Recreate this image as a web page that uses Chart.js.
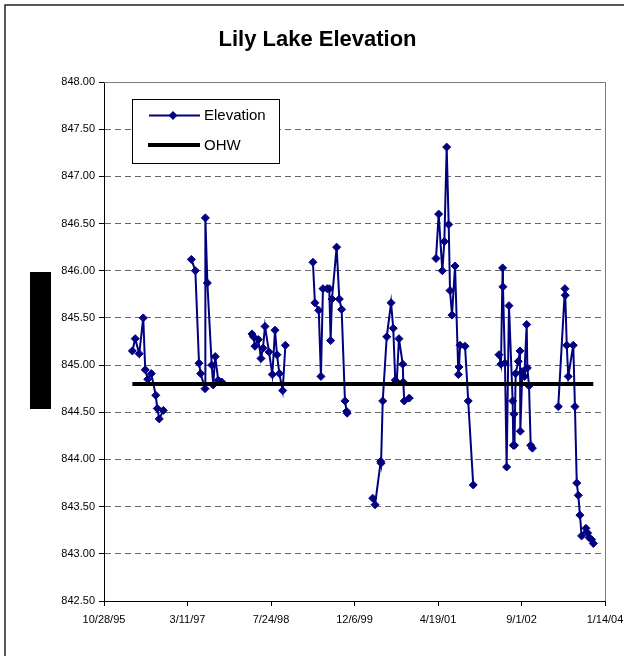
<!DOCTYPE html>
<html>
<head>
<meta charset="utf-8">
<script src="https://cdn.jsdelivr.net/npm/chart.js@4.4.1/dist/chart.umd.min.js"></script>
<style>
html,body{margin:0;padding:0;background:#fff;}
canvas{display:block;}
</style>
</head>
<body>
<canvas id="c" width="624" height="656"></canvas>
<script>
// ---------------- data ----------------
const chartTitle = 'Lily Lake Elevation';
const seriesNames = ['Elevation', 'OHW'];

// Excel date serials (days since 12/30/1899); null marks a break between survey periods
const sampleDates = [
  35170, 35187, 35211, 35235, 35247, 35262, 35283, 35310, 35319, 35331, 35355,
  null,
  35523, 35547, 35569, 35579, 35605, 35607, 35619, 35645, 35654, 35666, 35684, 35705,
  null,
  35886, 35895, 35904, 35924, 35940, 35952, 35964, 35988, 36008, 36024, 36036, 36050, 36070, 36086,
  null,
  36251, 36263, 36286, 36299, 36311, 36337, 36349, 36357, 36365, 36393, 36409, 36423, 36443, 36453, 36456,
  null,
  36609, 36623, 36657, 36659, 36669, 36693, 36719, 36732, 36744, 36753, 36766, 36789, 36792, 36798, 36828,
  null,
  36988, 37004, 37026, 37038, 37052, 37064, 37072, 37084, 37102, 37122, 37126, 37132, 37162, 37181, 37211,
  null,
  37365, 37377, 37387, 37389, 37401, 37411, 37425, 37447, 37451, 37455, 37458, 37465, 37481, 37491, 37493,
  37505, 37517, 37531, 37535, 37545, 37555, 37565,
  null,
  37720, 37760, 37762, 37771, 37780, 37810, 37820, 37831, 37840, 37850, 37860, 37886, 37896, 37906, 37920, 37930
];
const elevation = [
  845.15, 845.28, 845.12, 845.50, 844.95, 844.85, 844.91, 844.68, 844.54, 844.43, 844.52,
  null,
  846.12, 846.00, 845.02, 844.91, 844.75, 846.56, 845.87, 845.00, 844.79, 845.09, 844.84, 844.82,
  null,
  845.33, 845.30, 845.20, 845.27, 845.07, 845.18, 845.41, 845.14, 844.90, 845.37, 845.11, 844.91, 844.73, 845.21,
  null,
  846.09, 845.66, 845.58, 844.88, 845.81, 845.81, 845.81, 845.26, 845.70, 846.25, 845.70, 845.59, 844.62, 844.51, 844.49,
  null,
  843.59, 843.52, 843.98, 843.96, 844.62, 845.30, 845.66, 845.39, 844.84, 844.82, 845.28, 845.01, 844.82, 844.62, 844.65,
  null,
  846.13, 846.60, 846.00, 846.31, 847.31, 846.49, 845.79, 845.53, 846.05, 844.90, 844.98, 845.21, 845.20, 844.62, 843.73,
  null,
  845.11, 845.01, 846.03, 845.83, 845.02, 843.92, 845.63, 844.62, 844.15, 844.48, 844.15, 844.91, 845.04, 845.15, 844.30,
  844.93, 844.88, 845.43, 844.97, 844.78, 844.15, 844.12,
  null,
  844.56, 845.81, 845.74, 845.21, 844.88, 845.21, 844.56, 843.75, 843.62, 843.41, 843.19, 843.27, 843.22, 843.17, 843.15, 843.11
];

const ohwDates = [35170, 37930];
const ohwLevel = [844.8, 844.8];

const xTicks = [35000, 35500, 36000, 36500, 37000, 37500, 38000];
const yTicks = [842.5, 843.0, 843.5, 844.0, 844.5, 845.0, 845.5, 846.0, 846.5, 847.0, 847.5, 848.0];

// ---------------- helpers ----------------
const FONT = "'Liberation Sans', Arial, Helvetica, sans-serif";
const NAVY = '#000080';

function serialToLabel(s) {
  const d = new Date(Date.UTC(1899, 11, 30) + Math.round(s) * 86400000);
  return (d.getUTCMonth() + 1) + '/' + d.getUTCDate() + '/' + String(d.getUTCFullYear() % 100).padStart(2, '0');
}

const elevPoints = sampleDates.map((d, i) => ({ x: d === null ? sampleDates[i - 1] : d, y: elevation[i] }));
const ohwPoints = ohwDates.map((d, i) => ({ x: d, y: ohwLevel[i] }));

const decor = {
  id: 'decor',
  beforeDraw(chart) {
    const ctx = chart.ctx;
    ctx.save();
    ctx.fillStyle = '#fff';
    ctx.fillRect(0, 0, chart.width, chart.height);
    ctx.restore();
  },
  afterDraw(chart) {
    const ctx = chart.ctx;
    const a = chart.chartArea;
    ctx.save();
    // plot frame top/right
    ctx.strokeStyle = '#7a7a7a';
    ctx.lineWidth = 1;
    ctx.beginPath();
    ctx.moveTo(a.left, Math.round(a.top) + 0.5);
    ctx.lineTo(Math.round(a.right) + 0.5, Math.round(a.top) + 0.5);
    ctx.lineTo(Math.round(a.right) + 0.5, a.bottom);
    ctx.stroke();

    // title
    ctx.fillStyle = '#000';
    ctx.font = 'bold 22px ' + FONT;
    ctx.textAlign = 'center';
    ctx.textBaseline = 'middle';
    ctx.fillText(chartTitle, 317.5, 40);

    // legend box
    ctx.fillStyle = '#fff';
    ctx.fillRect(132, 99, 147, 64);
    ctx.strokeStyle = '#000';
    ctx.lineWidth = 1;
    ctx.strokeRect(132.5, 99.5, 147, 64);
    // Elevation sample
    ctx.strokeStyle = NAVY;
    ctx.lineWidth = 2;
    ctx.beginPath();
    ctx.moveTo(149, 115.5);
    ctx.lineTo(200, 115.5);
    ctx.stroke();
    ctx.fillStyle = NAVY;
    ctx.beginPath();
    ctx.moveTo(173, 111); ctx.lineTo(177.5, 115.5); ctx.lineTo(173, 120); ctx.lineTo(168.5, 115.5);
    ctx.closePath();
    ctx.fill();
    // OHW sample
    ctx.strokeStyle = '#000';
    ctx.lineWidth = 4;
    ctx.beginPath();
    ctx.moveTo(148, 145);
    ctx.lineTo(200, 145);
    ctx.stroke();
    ctx.fillStyle = '#000';
    ctx.font = '15px ' + FONT;
    ctx.textAlign = 'left';
    ctx.textBaseline = 'middle';
    ctx.fillText(seriesNames[0], 204, 116);
    ctx.fillText(seriesNames[1], 204, 146);

    // redacted axis title block
    ctx.fillStyle = '#000';
    ctx.fillRect(30, 272, 21, 137);

    // outer chart frame
    ctx.strokeStyle = '#222';
    ctx.lineWidth = 1.5;
    ctx.strokeRect(5, 5, 700, 700);
    ctx.restore();
  }
};

new Chart(document.getElementById('c'), {
  type: 'line',
  data: {
    datasets: [
      {
        label: seriesNames[0],
        data: elevPoints,
        borderColor: NAVY,
        backgroundColor: NAVY,
        borderWidth: 2,
        pointStyle: 'rectRot',
        pointRadius: 4,
        pointBorderWidth: 1,
        pointBackgroundColor: NAVY,
        pointBorderColor: NAVY,
        tension: 0,
        spanGaps: false,
        fill: false,
        order: 1
      },
      {
        label: seriesNames[1],
        data: ohwPoints,
        borderColor: '#000',
        backgroundColor: '#000',
        borderWidth: 4,
        pointRadius: 0,
        tension: 0,
        fill: false,
        order: 0
      }
    ]
  },
  options: {
    responsive: false,
    animation: false,
    devicePixelRatio: 1,
    layout: { padding: { top: 82, right: 19, bottom: 0, left: 0 } },
    plugins: {
      legend: { display: false },
      title: { display: false },
      tooltip: { enabled: false }
    },
    scales: {
      x: {
        type: 'linear',
        min: xTicks[0],
        max: xTicks[xTicks.length - 1],
        afterBuildTicks: s => { s.ticks = xTicks.map(v => ({ value: v })); },
        afterFit: s => { s.height = 55; s.paddingLeft = 0; s.paddingRight = 0; },
        grid: { drawOnChartArea: false, drawTicks: true, tickLength: 5, tickColor: '#000', tickWidth: 1 },
        border: { color: '#000', width: 1 },
        ticks: {
          autoSkip: false, maxRotation: 0, minRotation: 0, padding: 7, color: '#000',
          font: { family: FONT, size: 11 },
          callback: v => serialToLabel(v)
        }
      },
      y: {
        type: 'linear',
        min: yTicks[0],
        max: yTicks[yTicks.length - 1],
        afterBuildTicks: s => { s.ticks = yTicks.map(v => ({ value: v })); },
        afterFit: s => { s.width = 104; },
        grid: {
          color: c => (c.tick && (c.tick.value === yTicks[0] || c.tick.value === yTicks[yTicks.length - 1])) ? 'rgba(0,0,0,0)' : '#666',
          lineWidth: 1, tickLength: 5, tickColor: '#000', tickWidth: 1, tickBorderDash: []
        },
        border: { color: '#000', width: 1, dash: [6, 4] },
        ticks: {
          padding: 4, color: '#000',
          font: { family: FONT, size: 11 },
          callback: v => Number(v).toFixed(2)
        }
      }
    }
  },
  plugins: [decor]
});
</script>
</body>
</html>
